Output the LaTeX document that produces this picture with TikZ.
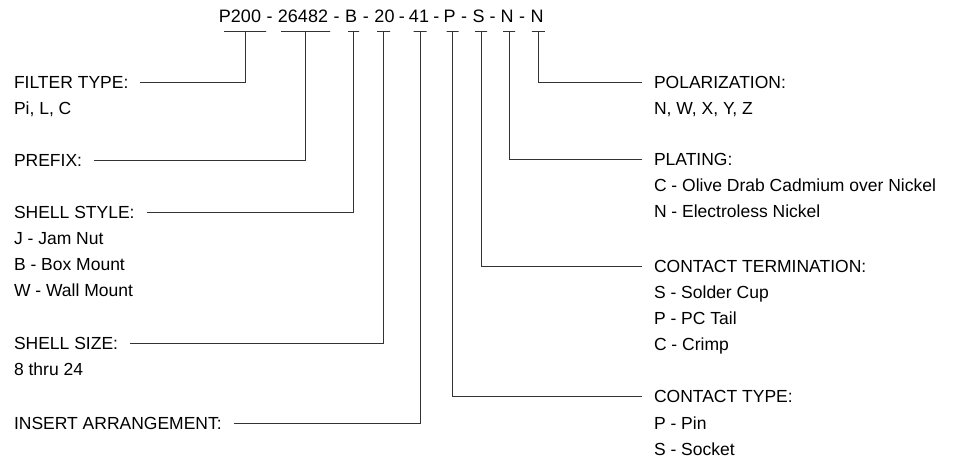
\documentclass[tikz,border=0pt]{standalone}
\usepackage{fontspec}
\setmainfont{Liberation Sans}
\tikzset{
  wire/.style={line width=0.8pt, black!80},
  code/.style={anchor=base, inner sep=0pt, font=\fontsize{18}{22}\selectfont},
  bar/.style={wire, draw, inner sep=0pt, minimum height=0pt, minimum width=#1},
  head/.style={anchor=west, inner ysep=0pt, inner xsep=0pt, outer xsep=12pt,
    text height=12.5pt, text depth=0pt},
  item/.style={anchor=base west, inner sep=0pt, outer xsep=12pt},
}
\begin{document}
\begin{tikzpicture}[x=1pt, y=-1pt, font=\fontsize{17.5}{21}\selectfont]
  \useasboundingbox (0,0) rectangle (966,460);
  % part number
  \node[code] (c1) at (240,22.5) {P200};
  \node[code] (c2) at (303,22.5) {26482};
  \node[code] (c3) at (351,22.5) {B};
  \node[code] (c4) at (384.5,22.5) {20};
  \node[code] (c5) at (419,22.5) {41};
  \node[code] (c6) at (449.5,22.5) {P};
  \node[code] (c7) at (478.5,22.5) {S};
  \node[code] (c8) at (507,22.5) {N};
  \node[code] (c9) at (537,22.5) {N};
  \foreach \a/\b in {1/2,2/3,3/4,4/5,5/6,6/7,7/8,8/9}
    \path (c\a.base east) -- (c\b.base west) node[midway, code] (d\a) {-};
  % bars under the fields
  \node[bar=42pt] (u1) at (245,31.7) {};
  \node[bar=49pt] (u2) at (305.5,31.7) {};
  \node[bar=11pt] (u3) at (353.5,31.7) {};
  \node[bar=13pt] (u4) at (383.7,31.7) {};
  \node[bar=13pt] (u5) at (420,31.7) {};
  \node[bar=12pt] (u6) at (452.5,31.7) {};
  \node[bar=12pt] (u7) at (481,31.7) {};
  \node[bar=12pt] (u8) at (509,31.7) {};
  \node[bar=13pt] (u9) at (538.3,31.7) {};
  % left side
  \node[head] (ftype) at (2,82) {FILTER TYPE:};
  \node[item] (ftype1) at ([yshift=-26pt]ftype.base west) {Pi, L, C};
  \node[head] (prefix) at (2,160) {PREFIX:};
  \node[head] (sstyle) at (2,212) {SHELL STYLE:};
  \node[item] (sstyle1) at ([yshift=-26pt]sstyle.base west) {J - Jam Nut};
  \node[item] (sstyle2) at ([yshift=-26pt]sstyle1.base west) {B - Box Mount};
  \node[item] (sstyle3) at ([yshift=-26pt]sstyle2.base west) {W - Wall Mount};
  \node[head] (ssize) at (2,343) {SHELL SIZE:};
  \node[item] (ssize1) at ([yshift=-26pt]ssize.base west) {8 thru 24};
  \node[head] (insert) at (2,423) {INSERT ARRANGEMENT:};
  % right side
  \node[head] (polar) at (642,82) {POLARIZATION:};
  \node[item] (polar1) at ([yshift=-26pt]polar.base west) {N, W, X, Y, Z};
  \node[head] (plating) at (642,159) {PLATING:};
  \node[item] (plating1) at ([yshift=-26pt]plating.base west) {C - Olive Drab Cadmium over Nickel};
  \node[item] (plating2) at ([yshift=-26pt]plating1.base west) {N - Electroless Nickel};
  \node[head] (cterm) at (642,266) {CONTACT TERMINATION:};
  \node[item] (cterm1) at ([yshift=-26pt]cterm.base west) {S - Solder Cup};
  \node[item] (cterm2) at ([yshift=-26pt]cterm1.base west) {P - PC Tail};
  \node[item] (cterm3) at ([yshift=-26pt]cterm2.base west) {C - Crimp};
  \node[head] (ctype) at (642,396.5) {CONTACT TYPE:};
  \node[item] (ctype1) at ([yshift=-26.5pt]ctype.base west) {P - Pin};
  \node[item] (ctype2) at ([yshift=-26.5pt]ctype1.base west) {S - Socket};
  \begin{scope}[wire]
    \draw (ftype.east) -| (u1.south);
    \draw (prefix.east) -| (u2.south);
    \draw (sstyle.east) -| (u3.south);
    \draw (ssize.east) -| (u4.south);
    \draw (insert.east) -| (u5.south);
    \draw (ctype.west) -| (u6.south);
    \draw (cterm.west) -| (u7.south);
    \draw (plating.west) -| (u8.south);
    \draw (polar.west) -| (u9.south);
  \end{scope}
\end{tikzpicture}
\end{document}
